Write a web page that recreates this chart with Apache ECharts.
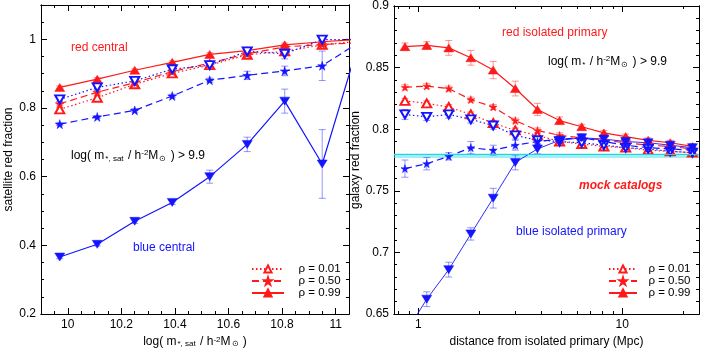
<!DOCTYPE html>
<html>
<head>
<meta charset="utf-8">
<script src="https://cdn.jsdelivr.net/npm/echarts@6/dist/echarts.min.js"></script>
<style>
  html, body { margin: 0; padding: 0; background: #fff; }
  #chart { width: 706px; height: 354px; }
</style>
</head>
<body>
<div id="chart"></div>
<script>
// ---- left panel: satellite red fraction vs satellite stellar mass ----
const massBins = [9.97, 10.11, 10.25, 10.39, 10.53, 10.67, 10.81, 10.95, 11.09];

const satRedC099 = [0.860, 0.884, 0.910, 0.933, 0.956, 0.967, 0.984, 0.993, 1.000];
const satRedC099Err = [0.004, 0.004, 0.004, 0.004, 0.005, 0.005, 0.005, 0.005, 0.005];
const satRedC050 = [0.812, 0.846, 0.874, 0.906, 0.931, 0.958, 0.978, 0.985, 0.990];
const satRedC050Err = [0.005, 0.005, 0.005, 0.005, 0.005, 0.006, 0.006, 0.006, 0.006];
const satRedC001 = [0.796, 0.830, 0.869, 0.901, 0.925, 0.955, 0.965, 0.984, 0.995];
const satRedC001Err = [0.006, 0.006, 0.005, 0.005, 0.005, 0.006, 0.007, 0.006, 0.006];

const satBlueC001 = [0.825, 0.860, 0.879, 0.913, 0.925, 0.965, 0.958, 0.999, 1.000];
const satBlueC001Err = [0.006, 0.006, 0.006, 0.007, 0.007, 0.010, 0.015, 0.008, 0.008];
const satBlueC050 = [0.753, 0.774, 0.793, 0.835, 0.881, 0.895, 0.908, 0.923, 0.993];
const satBlueC050Err = [0.004, 0.004, 0.005, 0.005, 0.006, 0.012, 0.014, 0.043, 0.040];
const satBlueC099 = [0.366, 0.403, 0.470, 0.525, 0.600, 0.694, 0.820, 0.637, 1.000];
const satBlueC099Err = [0.005, 0.005, 0.006, 0.006, 0.019, 0.021, 0.035, 0.100, 0.100];

// ---- right panel: galaxy red fraction vs distance ----
const distBins = [0.86, 1.10, 1.41, 1.81, 2.33, 2.99, 3.84, 4.93, 6.33, 8.13, 10.4, 13.4, 17.2, 22.1];

const galRed099 = [0.867, 0.868, 0.866, 0.858, 0.848, 0.833, 0.816, 0.807, 0.802, 0.797, 0.794, 0.791, 0.789, 0.786];
const galRed099Err = [0.003, 0.003, 0.006, 0.006, 0.007, 0.006, 0.005, 0.003, 0.002, 0.002, 0.002, 0.002, 0.002, 0.002];
const galRed050 = [0.834, 0.835, 0.833, 0.824, 0.818, 0.807, 0.799, 0.795, 0.793, 0.791, 0.789, 0.787, 0.786, 0.784];
const galRed050Err = [0.002, 0.002, 0.002, 0.002, 0.002, 0.002, 0.002, 0.002, 0.002, 0.002, 0.002, 0.002, 0.002, 0.002];
const galRed001 = [0.823, 0.821, 0.818, 0.812, 0.805, 0.799, 0.795, 0.790, 0.788, 0.786, 0.785, 0.783, 0.782, 0.781];
const galRed001Err = [0.002, 0.002, 0.002, 0.002, 0.002, 0.002, 0.002, 0.002, 0.002, 0.002, 0.002, 0.002, 0.002, 0.002];

const galBlue001 = [0.812, 0.810, 0.812, 0.808, 0.803, 0.795, 0.791, 0.790, 0.789, 0.787, 0.785, 0.784, 0.782, 0.781];
const galBlue001Err = [0.004, 0.003, 0.003, 0.003, 0.003, 0.003, 0.003, 0.003, 0.002, 0.002, 0.002, 0.002, 0.002, 0.002];
const galBlue050 = [0.768, 0.772, 0.778, 0.785, 0.783, 0.787, 0.790, 0.792, 0.793, 0.790, 0.787, 0.785, 0.784, 0.783];
const galBlue050Err = [0.007, 0.005, 0.003, 0.005, 0.004, 0.004, 0.004, 0.003, 0.003, 0.003, 0.003, 0.003, 0.003, 0.003];
const galBlue099 = [0.634, 0.662, 0.686, 0.715, 0.744, 0.773, 0.784, 0.791, 0.793, 0.792, 0.790, 0.789, 0.787, 0.785];
const galBlue099Err = [0.006, 0.006, 0.006, 0.005, 0.008, 0.006, 0.004, 0.003, 0.003, 0.003, 0.003, 0.003, 0.003, 0.003];

const mockBand = [0.7766, 0.7803];
const mockMean = 0.7785;

// ---- ticks ----
const massTicks = [10, 10.2, 10.4, 10.6, 10.8, 11];
const massMinor = [9.95, 10.05, 10.1, 10.15, 10.25, 10.3, 10.35, 10.45, 10.5, 10.55, 10.65, 10.7, 10.75, 10.85, 10.9, 10.95];
const satFracTicks = [0.2, 0.4, 0.6, 0.8, 1];
const satFracMinor = [0.25, 0.3, 0.35, 0.45, 0.5, 0.55, 0.65, 0.7, 0.75, 0.85, 0.9, 0.95, 1.05];
const distTicks = [1, 10];
const distMinor = [0.8, 0.9, 2, 3, 4, 5, 6, 7, 8, 9, 20];
const galFracTicks = [0.65, 0.7, 0.75, 0.8, 0.85, 0.9];
const galFracMinor = [0.66, 0.67, 0.68, 0.69, 0.71, 0.72, 0.73, 0.74, 0.76, 0.77, 0.78, 0.79,
                      0.81, 0.82, 0.83, 0.84, 0.86, 0.87, 0.88, 0.89];

const legendNames = ['ρ = 0.01', 'ρ = 0.50', 'ρ = 0.99'];

const FONT = 'Liberation Sans, Arial, Helvetica, sans-serif';
const RED = '#ff1a1a';
const BLUE = '#1414ff';
const RED_ERR = 'rgba(255,60,60,0.55)';
const BLUE_ERR = 'rgba(60,60,255,0.55)';
const STAR = 'path://M50,0 L61,35 L98,35 L68,57 L79,91 L50,70 L21,91 L32,57 L2,35 L39,35 Z';

const chart = echarts.init(document.getElementById('chart'), null, { renderer: 'canvas' });

const subRich = {
  sub: { fontSize: 8, fontFamily: FONT, color: '#000', verticalAlign: 'bottom', lineHeight: 8, padding: [0, 1, 0, 1] },
  sup: { fontSize: 8, fontFamily: FONT, color: '#000', verticalAlign: 'top', lineHeight: 8 }
};

// one axis (major or minor ticks) of a panel side
function axis(gridIndex, type, position, min, max, ticks, len, withLabels, extra) {
  return Object.assign({
    gridIndex, type, position, min, max,
    axisLine: { show: true, onZero: false, lineStyle: { color: '#000', width: 1 } },
    axisTick: { show: true, inside: true, length: len, customValues: ticks, lineStyle: { color: '#000', width: 1 } },
    axisLabel: withLabels
      ? { show: true, customValues: ticks, color: '#000', fontSize: 12, fontFamily: FONT, margin: 5, showMinLabel: true, showMaxLabel: true }
      : { show: false },
    splitLine: { show: false },
    minorTick: { show: false }
  }, extra || {});
}

const xAxes = [
  axis(0, 'value', 'bottom', 9.9, 11.05, massTicks, 6, true, {
    name: 'log( m{sub|*, sat} / h{sup|-2}M{sub|⊙} )', nameLocation: 'middle', nameGap: 20,
    nameTextStyle: { fontSize: 12, fontFamily: FONT, color: '#000', rich: subRich }
  }),
  axis(0, 'value', 'bottom', 9.9, 11.05, massMinor, 3, false),
  axis(0, 'value', 'top', 9.9, 11.05, massTicks, 6, false),
  axis(0, 'value', 'top', 9.9, 11.05, massMinor, 3, false),
  axis(1, 'log', 'bottom', 0.76, 23.8, distTicks, 6, true, {
    logBase: 10,
    name: 'distance from isolated primary (Mpc)', nameLocation: 'middle', nameGap: 20,
    nameTextStyle: { fontSize: 12, fontFamily: FONT, color: '#000' }
  }),
  axis(1, 'log', 'bottom', 0.76, 23.8, distMinor, 3, false, { logBase: 10 }),
  axis(1, 'log', 'top', 0.76, 23.8, distTicks, 6, false, { logBase: 10 }),
  axis(1, 'log', 'top', 0.76, 23.8, distMinor, 3, false, { logBase: 10 })
];

const yAxes = [
  axis(0, 'value', 'left', 0.2, 1.1, satFracTicks, 6, true, {
    name: 'satellite red fraction', nameLocation: 'middle', nameGap: 26,
    nameTextStyle: { fontSize: 12, fontFamily: FONT, color: '#000' }
  }),
  axis(0, 'value', 'left', 0.2, 1.1, satFracMinor, 3, false),
  axis(0, 'value', 'right', 0.2, 1.1, satFracTicks, 6, false),
  axis(0, 'value', 'right', 0.2, 1.1, satFracMinor, 3, false),
  axis(1, 'value', 'left', 0.65, 0.9, galFracTicks, 6, true, {
    name: 'galaxy red fraction', nameLocation: 'middle', nameGap: 23,
    nameTextStyle: { fontSize: 12, fontFamily: FONT, color: '#000' }
  }),
  axis(1, 'value', 'left', 0.65, 0.9, galFracMinor, 3, false),
  axis(1, 'value', 'right', 0.65, 0.9, galFracTicks, 6, false),
  axis(1, 'value', 'right', 0.65, 0.9, galFracMinor, 3, false)
];

function line(name, xs, ys, color, dash, symbol, size, rotate, panel, width) {
  return {
    name, type: 'line', xAxisIndex: panel * 4, yAxisIndex: panel * 4,
    data: xs.map((x, i) => [x, ys[i]]),
    symbol, symbolSize: size, symbolRotate: rotate, showAllSymbol: true,
    lineStyle: { color, width: width || 1.2, type: dash },
    itemStyle: { color, borderColor: color, borderWidth: symbol.indexOf('empty') === 0 ? 1.2 : 0.5 },
    clip: true, z: 4, silent: true
  };
}

function errors(xs, ys, es, color, panel) {
  return {
    type: 'custom', xAxisIndex: panel * 4, yAxisIndex: panel * 4, clip: true, z: 2, silent: true,
    data: xs.map((x, i) => [x, ys[i] - es[i], ys[i] + es[i]]),
    encode: { x: 0, y: [1, 2] },
    renderItem: function (params, api) {
      const a = api.coord([api.value(0), api.value(1)]);
      const b = api.coord([api.value(0), api.value(2)]);
      const w = 3.5;
      const st = { stroke: color, lineWidth: 1 };
      return {
        type: 'group', children: [
          { type: 'line', shape: { x1: a[0], y1: a[1], x2: b[0], y2: b[1] }, style: st },
          { type: 'line', shape: { x1: a[0] - w, y1: a[1], x2: a[0] + w, y2: a[1] }, style: st },
          { type: 'line', shape: { x1: b[0] - w, y1: b[1], x2: b[0] + w, y2: b[1] }, style: st }
        ]
      };
    }
  };
}

const DOT = [1.5, 2.5];
const DASH = [7, 4];

const series = [
  // left
  errors(massBins, satRedC001, satRedC001Err, RED_ERR, 0),
  errors(massBins, satRedC050, satRedC050Err, RED_ERR, 0),
  errors(massBins, satRedC099, satRedC099Err, RED_ERR, 0),
  errors(massBins, satBlueC001, satBlueC001Err, BLUE_ERR, 0),
  errors(massBins, satBlueC050, satBlueC050Err, BLUE_ERR, 0),
  errors(massBins, satBlueC099, satBlueC099Err, BLUE_ERR, 0),
  line('ρ = 0.01', massBins, satRedC001, RED, DOT, 'emptyTriangle', [9, 8], 0, 0),
  line('ρ = 0.50', massBins, satRedC050, RED, DASH, STAR, 9, 0, 0),
  line('ρ = 0.99', massBins, satRedC099, RED, 'solid', 'triangle', [10, 8], 0, 0),
  line('blue ρ = 0.01', massBins, satBlueC001, BLUE, DOT, 'emptyTriangle', [9, 8], 180, 0),
  line('blue ρ = 0.50', massBins, satBlueC050, BLUE, DASH, STAR, 9, 0, 0),
  line('blue ρ = 0.99', massBins, satBlueC099, BLUE, 'solid', 'triangle', [10, 8], 180, 0),
  // right: mock catalog band
  {
    name: 'mock catalogs', type: 'line', xAxisIndex: 4, yAxisIndex: 4, data: [], z: 1, silent: true,
    markArea: {
      silent: true, itemStyle: { color: 'rgba(80,225,235,0.55)' },
      data: [[{ yAxis: mockBand[0] }, { yAxis: mockBand[1] }]]
    },
    markLine: {
      silent: true, symbol: 'none', label: { show: false },
      lineStyle: { color: '#22d4e2', width: 1, type: 'solid' },
      data: [{ yAxis: mockMean }]
    }
  },
  errors(distBins, galRed001, galRed001Err, RED_ERR, 1),
  errors(distBins, galRed050, galRed050Err, RED_ERR, 1),
  errors(distBins, galRed099, galRed099Err, RED_ERR, 1),
  errors(distBins, galBlue001, galBlue001Err, BLUE_ERR, 1),
  errors(distBins, galBlue050, galBlue050Err, BLUE_ERR, 1),
  errors(distBins, galBlue099, galBlue099Err, BLUE_ERR, 1),
  line('ρ = 0.01', distBins, galRed001, RED, DOT, 'emptyTriangle', [9, 8], 0, 1),
  line('ρ = 0.50', distBins, galRed050, RED, DASH, STAR, 8, 0, 1),
  line('ρ = 0.99', distBins, galRed099, RED, 'solid', 'triangle', [10, 8], 0, 1),
  line('blue ρ = 0.01', distBins, galBlue001, BLUE, DOT, 'emptyTriangle', [9, 8], 180, 1),
  line('blue ρ = 0.50', distBins, galBlue050, BLUE, DASH, STAR, 8, 0, 1),
  line('blue ρ = 0.99', distBins, galBlue099, BLUE, 'solid', 'triangle', [10, 8], 180, 1, 0.9)
];

function legend(left, width, pad) {
  return {
    data: legendNames, left, top: 258, orient: 'vertical',
    itemWidth: width, itemHeight: 9, itemGap: 0, selectedMode: false,
    formatter: pad + '{name}',
    textStyle: { fontSize: 11.5, fontFamily: FONT, color: '#000' }
  };
}

function label(x, y, text, color, extra) {
  return {
    type: 'text', x, y, silent: true,
    style: Object.assign({
      text, fill: color, font: '12px ' + FONT, textVerticalAlign: 'middle'
    }, extra || {})
  };
}

const logRich = {
  sub: { fontSize: 8, fontFamily: FONT, fill: '#000', verticalAlign: 'bottom', lineHeight: 8, padding: [0, 1, 0, 1] },
  sup: { fontSize: 8, fontFamily: FONT, fill: '#000', verticalAlign: 'top', lineHeight: 8 }
};

chart.setOption({
  animation: false,
  backgroundColor: '#fff',
  grid: [
    { left: 41, top: 5, width: 308, height: 309, show: false },
    { left: 394, top: 5, width: 305, height: 309, show: false }
  ],
  xAxis: xAxes,
  yAxis: yAxes,
  legend: [legend(246, 32, '   '), legend(603, 28, '  ')],
  graphic: [
    label(71, 48, 'red central', RED),
    label(71, 156, 'log( m{sub|*, sat} / h{sup|-2}M{sub|⊙} ) > 9.9', '#000', { rich: logRich, lineHeight: 14 }),
    label(133, 248, 'blue central', BLUE),
    label(502, 33, 'red isolated primary', RED),
    label(548, 62, 'log( m{sub|*} / h{sup|-2}M{sub|⊙} ) > 9.9', '#000', { rich: logRich, lineHeight: 14 }),
    label(579, 186, 'mock catalogs', RED, { font: 'italic bold 12px ' + FONT }),
    label(516, 232, 'blue isolated primary', BLUE)
  ],
  series
});
</script>
</body>
</html>
